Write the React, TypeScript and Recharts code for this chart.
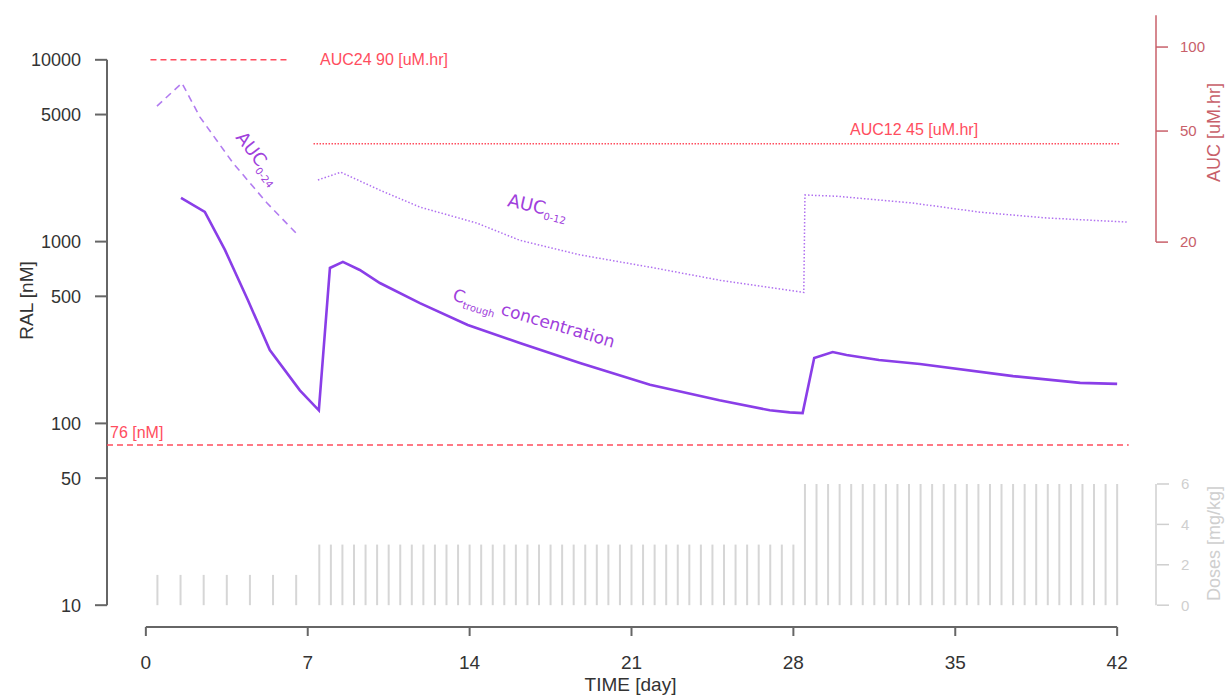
import React from "react";
import { ComposedChart, Line, XAxis, YAxis, ReferenceLine, ReferenceDot } from "recharts";

// ---- axes ----
const dayTicks = [0, 7, 14, 21, 28, 35, 42];
const concTicks = [10, 50, 100, 500, 1000, 5000, 10000];
const aucTicks = [20, 50, 100];
const doseTicks = [0, 2, 4, 6];

// ---- C trough concentration (nM) ----
const troughDays = [1.52, 2.55, 3.42, 4.41, 5.36, 6.66, 7.48, 7.96, 8.52, 9.25, 10.12, 11.85, 13.92, 16.17, 18.77, 21.8, 24.8, 26.98, 27.84, 28.4, 28.9, 29.7, 30.3, 31.7, 33.47, 37.5, 40.4, 42.0];
const troughNM = [1738, 1456, 900, 477, 253, 152, 118, 716, 773, 698, 592, 459, 348, 277, 215, 163, 134, 118, 115, 114, 229, 247, 238, 223, 212, 182, 167, 165];

// ---- AUC 0-24 (uM.hr), first week ----
const auc24Days = [0.48, 1.56, 2.34, 3.77, 5.24, 6.53];
const auc24Values = [61.4, 74.3, 56.1, 38.4, 27.6, 21.4];

// ---- AUC 0-12 (uM.hr), from day 7 ----
const auc12Days = [7.44, 8.43, 10.12, 11.85, 14.31, 16.17, 18.77, 21.92, 24.82, 28.45, 28.5, 29.88, 33.17, 36.07, 38.96, 42.41];
const auc12Values = [33.4, 35.6, 30.7, 26.7, 23.4, 20.3, 18.0, 16.2, 14.6, 13.2, 29.5, 29.2, 27.6, 25.6, 24.4, 23.6];

// ---- doses (mg/kg) ----
const qdDays = [0.5, 1.5, 2.5, 3.5, 4.5, 5.5, 6.5];
const qdDose = 1.5;
const bidLowDays = [7.5, 8, 8.5, 9, 9.5, 10, 10.5, 11, 11.5, 12, 12.5, 13, 13.5, 14, 14.5, 15, 15.5, 16, 16.5, 17, 17.5, 18, 18.5, 19, 19.5, 20, 20.5, 21, 21.5, 22, 22.5, 23, 23.5, 24, 24.5, 25, 25.5, 26, 26.5, 27, 27.5, 28];
const bidLowDose = 3;
const bidHighDays = [28.5, 29, 29.5, 30, 30.5, 31, 31.5, 32, 32.5, 33, 33.5, 34, 34.5, 35, 35.5, 36, 36.5, 37, 37.5, 38, 38.5, 39, 39.5, 40, 40.5, 41, 41.5, 42];
const bidHighDose = 6;

// ---- targets ----
const auc24Target = 90;
const auc12Target = 45;
const concTarget = 76;

const toXY = (xs: number[], ys: number[]) => xs.map((x, i) => ({ x, y: ys[i] }));
const troughData = toXY(troughDays, troughNM);
const auc24Data = toXY(auc24Days, auc24Values);
const auc12Data = toXY(auc12Days, auc12Values);
const doseBars = [
  ...qdDays.map((d) => ({ d, v: qdDose })),
  ...bidLowDays.map((d) => ({ d, v: bidLowDose })),
  ...bidHighDays.map((d) => ({ d, v: bidHighDose })),
];

// R style 4% range padding
const pad = (lo: number, hi: number) => {
  const d = (hi - lo) * 0.04;
  return [lo - d, hi + d];
};
const padLog = (lo: number, hi: number) => {
  const a = Math.log10(lo);
  const b = Math.log10(hi);
  const d = (b - a) * 0.04;
  return [10 ** (a - d), 10 ** (b + d)];
};
const X_DOM = pad(0, 42);
const CONC_DOM = padLog(10, 10000);
const AUC_DOM = padLog(1, 90);
const DOSE_DOM = pad(0, 27);

const SANS = "'Liberation Sans', Arial, sans-serif";
const DEJA = "'DejaVu Sans', Verdana, sans-serif";
const AXIS = "#666";
const AUC_COL = "#c8606a";
const DOSE_COL = "#cfcfcf";
const RED = "#ff4d5e";
const PURPLE = "#8a3ee8";
const LABEL_PURPLE = "#a040dc";

const rotTitle = (text: string, fill: string, dx: number, dy: number, size = 19) => (props: any) => {
  const { x, y, height } = props.viewBox;
  const tx = x + dx;
  const ty = y + height / 2 + dy;
  return (
    <text x={tx} y={ty} transform={`rotate(-90 ${tx} ${ty})`} textAnchor="middle" fill={fill} fontSize={size} fontFamily={SANS}>
      {text}
    </text>
  );
};

const timeTitle = (props: any) => {
  const { x, y, width } = props.viewBox;
  return (
    <text x={x + width / 2 - 1} y={y + 64} textAnchor="middle" fill="#333" fontSize={19} fontFamily={SANS}>
      TIME [day]
    </text>
  );
};

const note = (text: string, dy = 0, size = 16) => (p: any) => (
  <text x={p.cx} y={p.cy + dy} fill={RED} fontSize={size} fontFamily={SANS} dominantBaseline="central">
    {text}
  </text>
);

const subLabel = (main: string, sub: string, rest: string, angle: number, size: number, subSize: number) => (p: any) => (
  <text
    x={p.cx}
    y={p.cy}
    transform={`rotate(${angle} ${p.cx} ${p.cy})`}
    fill={LABEL_PURPLE}
    fontSize={size}
    fontFamily={DEJA}
  >
    {main}
    <tspan fontSize={subSize} dy={5}>{sub}</tspan>
    {rest && <tspan dy={-5}>{rest}</tspan>}
  </text>
);

export default function App() {
  return (
    <div style={{ position: "absolute", left: 0, top: 0, background: "#fff" }}>
      <ComposedChart width={1227} height={695} margin={{ top: 38, right: 69, bottom: 0, left: 47 }}>
        <XAxis
          dataKey="x"
          type="number"
          domain={X_DOM}
          ticks={dayTicks}
          allowDataOverflow
          axisLine={false}
          tickSize={9}
          tickMargin={20}
          tickLine={{ stroke: AXIS, strokeWidth: 2 }}
          tick={{ fill: "#333", fontSize: 19, fontFamily: SANS }}
          height={68}
          label={timeTitle}
        />
        <YAxis
          yAxisId="conc"
          type="number"
          scale="log"
          domain={CONC_DOM}
          ticks={concTicks}
          allowDataOverflow
          width={60}
          axisLine={false}
          tickSize={12}
          tickMargin={14}
          tickLine={{ stroke: AXIS, strokeWidth: 2 }}
          tick={{ fill: "#333", fontSize: 18, fontFamily: SANS }}
          label={rotTitle("RAL [nM]", "#333", -14, -32)}
        />
        <YAxis
          yAxisId="auc"
          orientation="right"
          type="number"
          scale="log"
          domain={AUC_DOM}
          ticks={aucTicks}
          allowDataOverflow
          width={1}
          axisLine={false}
          tickSize={12}
          tickMargin={12}
          tickLine={{ stroke: AUC_COL, strokeWidth: 1.5 }}
          tick={{ fill: AUC_COL, fontSize: 15, fontFamily: SANS }}
          label={rotTitle("AUC [uM.hr]", AUC_COL, 64, -200, 18)}
        />
        <YAxis
          yAxisId="dose"
          orientation="right"
          type="number"
          domain={DOSE_DOM}
          ticks={doseTicks}
          allowDataOverflow
          width={1}
          axisLine={false}
          tickSize={12}
          tickMargin={12}
          tickLine={{ stroke: DOSE_COL, strokeWidth: 1.5 }}
          tick={{ fill: DOSE_COL, fontSize: 15, fontFamily: SANS }}
          label={rotTitle("Doses [mg/kg]", DOSE_COL, 63, 211, 18)}
        />

        {/* axis lines drawn only over the tick range, like base R */}
        <ReferenceLine yAxisId="conc" ifOverflow="visible" stroke={AXIS} strokeWidth={2}
          segment={[{ x: X_DOM[0], y: concTicks[0] }, { x: X_DOM[0], y: concTicks[concTicks.length - 1] }]} />
        <ReferenceLine yAxisId="conc" ifOverflow="visible" stroke={AXIS} strokeWidth={2}
          segment={[{ x: dayTicks[0], y: CONC_DOM[0] }, { x: dayTicks[dayTicks.length - 1], y: CONC_DOM[0] }]} />
        <ReferenceLine yAxisId="auc" ifOverflow="visible" stroke={AUC_COL} strokeWidth={1.5}
          segment={[{ x: X_DOM[1], y: 20 }, { x: X_DOM[1], y: 130 }]} />
        <ReferenceLine yAxisId="dose" ifOverflow="visible" stroke={DOSE_COL} strokeWidth={1.5}
          segment={[{ x: X_DOM[1], y: 0 }, { x: X_DOM[1], y: 6 }]} />

        {/* dose impulses */}
        {doseBars.map((b, i) => (
          <ReferenceLine key={`dose-${i}`} yAxisId="dose" ifOverflow="visible" stroke="#d6d6d6" strokeWidth={2}
            segment={[{ x: b.d, y: 0 }, { x: b.d, y: b.v }]} />
        ))}

        {/* targets */}
        <ReferenceLine yAxisId="auc" ifOverflow="visible" stroke={RED} strokeWidth={1.6} strokeDasharray="6 4"
          segment={[{ x: 0.2, y: auc24Target }, { x: 6.15, y: auc24Target }]} />
        <ReferenceLine yAxisId="auc" ifOverflow="visible" stroke={RED} strokeWidth={1.6} strokeDasharray="1.5 1.5"
          segment={[{ x: 7.25, y: auc12Target }, { x: 42.1, y: auc12Target }]} />
        <ReferenceLine yAxisId="conc" ifOverflow="visible" stroke={RED} strokeWidth={1.6} strokeDasharray="6 4"
          segment={[{ x: X_DOM[0], y: concTarget }, { x: 42.5, y: concTarget }]} />

        <Line data={auc24Data} dataKey="y" yAxisId="auc" type="linear" stroke="#b27cf0" strokeWidth={1.6}
          strokeDasharray="7 5" dot={false} isAnimationActive={false} />
        <Line data={auc12Data} dataKey="y" yAxisId="auc" type="linear" stroke="#b070f0" strokeWidth={1.5}
          strokeDasharray="1.5 2" dot={false} isAnimationActive={false} />
        <Line data={troughData} dataKey="y" yAxisId="conc" type="linear" stroke={PURPLE} strokeWidth={2.6}
          dot={false} isAnimationActive={false} />

        {/* annotations */}
        <ReferenceDot yAxisId="auc" x={7.53} y={auc24Target} ifOverflow="visible" shape={note("AUC24 90 [uM.hr]")} />
        <ReferenceDot yAxisId="auc" x={30.45} y={auc12Target} ifOverflow="visible" shape={note("AUC12 45 [uM.hr]", -14)} />
        <ReferenceDot yAxisId="conc" x={-1.55} y={concTarget} ifOverflow="visible" shape={note("76 [nM]", -13)} />
        <ReferenceDot yAxisId="conc" x={3.85} y={3725} ifOverflow="visible" shape={subLabel("AUC", "0-24", "", 52, 18, 10)} />
        <ReferenceDot yAxisId="conc" x={15.61} y={1571} ifOverflow="visible" shape={subLabel("AUC", "0-12", "", 13, 18, 10)} />
        <ReferenceDot yAxisId="conc" x={13.23} y={477} ifOverflow="visible" shape={subLabel("C", "trough", " concentration", 16.5, 17, 10)} />
      </ComposedChart>
    </div>
  );
}
